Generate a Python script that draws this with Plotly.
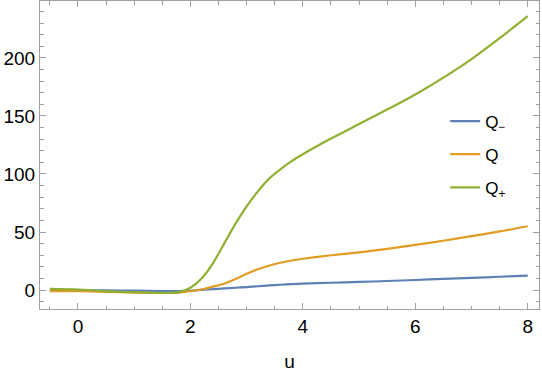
import plotly.graph_objects as go

u = [-0.5, 0, 0.5, 1, 1.5, 1.8, 2, 2.2, 2.4, 2.6, 2.8, 3, 3.2, 3.4, 3.6, 3.8, 4, 4.5, 5, 5.5, 6, 6.5, 7, 7.5, 8]
q_minus = [0, 0, -0.3, -0.5, -0.8, -0.8, -0.5, 0.2, 0.8, 1.4, 2.0, 2.6, 3.3, 4.0, 4.6, 5.1, 5.5, 6.3, 7.0, 7.8, 8.7, 9.6, 10.5, 11.5, 12.5]
q_mid = [-1, -1, -1.5, -2, -2.5, -2.3, -1, 0.5, 3, 5.5, 9.5, 14, 18, 21, 23.5, 25.5, 27, 30, 32.5, 35.5, 39, 42.5, 46.5, 50.5, 55]
q_plus = [1, 0.5, -1, -2, -2.5, -1.7, 2, 10, 23, 40, 57, 72, 85, 96, 104, 111, 117, 130.5, 143, 155.5, 168.5, 183, 199, 217, 236]

names = ["Q<sub>\u2212</sub>", "Q", "Q<sub>+</sub>"]
colors = ["#5E81B5", "#E19C24", "#8FB032"]
series = [q_minus, q_mid, q_plus]

fig = go.Figure()
for i, (nm, col, ys) in enumerate(zip(names, colors, series)):
    fig.add_trace(go.Scatter(x=u, y=ys, mode="lines", name=nm, legendgroup=str(i),
                             line=dict(color=col, width=2.2, shape="spline", smoothing=0.7)))

axis_common = dict(showline=True, linecolor="#a0a0a0", linewidth=1, mirror="allticks",
                   ticks="inside", ticklen=6, tickcolor="#a0a0a0", showgrid=False, zeroline=False,
                   tickfont=dict(family="Liberation Sans, Arial", size=19, color="black"))

fig.update_xaxes(range=[-0.675, 8.2], tickvals=[0, 2, 4, 6, 8],
                 minor=dict(ticks="inside", ticklen=3.5, tickcolor="#a0a0a0", dtick=0.5, tick0=0),
                 title=dict(text="u", font=dict(family="Liberation Sans, Arial", size=19, color="black"), standoff=18),
                 **axis_common)
fig.update_yaxes(range=[-16.3, 249], tickvals=[0, 50, 100, 150, 200],
                 minor=dict(ticks="inside", ticklen=3.5, tickcolor="#a0a0a0", dtick=10, tick0=0),
                 **axis_common)

fig.update_layout(width=542, height=380, margin=dict(l=40, r=3, t=1, b=71),
                  plot_bgcolor="white", paper_bgcolor="white",
                  legend=dict(x=0.812, y=0.667, xanchor="left", yanchor="top", tracegroupgap=8,
                              font=dict(family="Liberation Sans, Arial", size=17, color="black"),
                              itemwidth=30, bgcolor="rgba(0,0,0,0)"),
                  showlegend=True)

fig.write_html("out.html")
